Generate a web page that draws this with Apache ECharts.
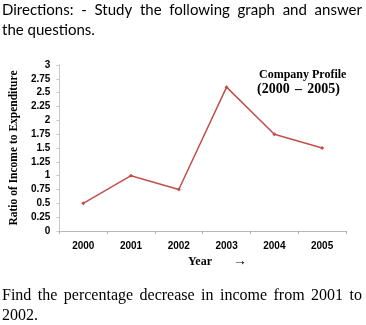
<!DOCTYPE html>
<html>
<head>
<meta charset="utf-8">
<script src="https://cdn.jsdelivr.net/npm/echarts@6/dist/echarts.min.js"></script>
<style>
html,body{margin:0;padding:0;background:#fff;}
#chart{width:366px;height:325px;}
</style>
</head>
<body>
<div id="chart"></div>
<script>
const years = ['2000', '2001', '2002', '2003', '2004', '2005'];
const ratioValues = [0.5, 1, 0.75, 2.6, 1.75, 1.5];
const yTicks = { min: 0, max: 3, interval: 0.25 };
const headerLines = ['Directions: - Study the following graph and answer', 'the questions.'];
const footerLines = ['Find the percentage decrease in income from 2001 to', '2002.'];
const chartTitleLines = ['Company Profile', '(2000 \u2013 2005)'];

const serif = '"Liberation Serif", "DejaVu Serif", serif';
const sans = 'Lato, "Open Sans", sans-serif';
const tickFont = '"Liberation Sans", Arial, sans-serif';

const ctx = document.createElement('canvas').getContext('2d');
function measure(text, font) { ctx.font = font; return ctx.measureText(text).width; }

// Justify a line of words between x0 and x1
function justified(line, font, x0, x1, top) {
  const words = line.split(' ');
  const widths = words.map(w => measure(w, font));
  const total = widths.reduce((a, b) => a + b, 0);
  const gap = words.length > 1 ? (x1 - x0 - total) / (words.length - 1) : 0;
  let x = x0;
  return words.map((w, i) => {
    const el = { type: 'text', left: x, top: top, style: { text: w, font: font, fill: '#000' } };
    x += widths[i] + gap;
    return el;
  });
}

const headerFont = '15px ' + sans;
const footerFont = '16px ' + serif;
const graphics = [].concat(
  justified(headerLines[0], headerFont, 2, 362, 3),
  [{ type: 'text', left: 2, top: 23, style: { text: headerLines[1], font: headerFont, fill: '#000' } }],
  justified(footerLines[0], footerFont, 2, 362, 288),
  [{ type: 'text', left: 2, top: 308, style: { text: footerLines[1], font: footerFont, fill: '#000' } }],
  [{ type: 'text', left: 259, top: 69, style: { text: chartTitleLines[0], font: 'bold 12px ' + serif, fill: '#000' } }],
  justified(chartTitleLines[1], 'bold 14px ' + serif, 257, 340, 82),
  [
    { type: 'text', left: 188, top: 256, style: { text: 'Year', font: 'bold 12px ' + serif, fill: '#000' } },
    { type: 'text', left: 233, top: 254, style: { text: '\u2192', font: 'bold 14px ' + serif, fill: '#000' } }
  ]
);

const chart = echarts.init(document.getElementById('chart'), null, { renderer: 'canvas' });
chart.setOption({
  animation: false,
  backgroundColor: '#ffffff',
  grid: { left: 58, right: 20, top: 65, bottom: 94, containLabel: false },
  xAxis: {
    type: 'category',
    data: years,
    boundaryGap: true,
    axisLine: { show: true, lineStyle: { color: '#b0b0b0', width: 1, type: 'dotted' } },
    axisTick: { show: true, inside: false, length: 3, lineStyle: { color: '#b0b0b0' } },
    axisLabel: { color: '#000', fontFamily: tickFont, fontWeight: 'bold', fontSize: 10, margin: 10 },
    splitLine: { show: false }
  },
  yAxis: {
    type: 'value',
    min: yTicks.min, max: yTicks.max, interval: yTicks.interval,
    axisLine: { show: true, lineStyle: { color: '#c8c8c8', width: 1 } },
    axisTick: { show: true, length: 3, lineStyle: { color: '#c8c8c8' } },
    axisLabel: { color: '#000', fontFamily: tickFont, fontWeight: 'bold', fontSize: 10, margin: 9 },
    splitLine: { show: false },
    name: 'Ratio of Income to Expenditure',
    nameLocation: 'middle',
    nameGap: 37,
    nameTextStyle: { color: '#000', fontFamily: serif, fontWeight: 'bold', fontSize: 11.5 }
  },
  series: [{
    type: 'line',
    data: ratioValues,
    symbol: 'diamond',
    symbolSize: 4,
    lineStyle: { color: '#c0504d', width: 1.5 },
    itemStyle: { color: '#c0504d' }
  }],
  graphic: graphics
});
</script>
</body>
</html>
